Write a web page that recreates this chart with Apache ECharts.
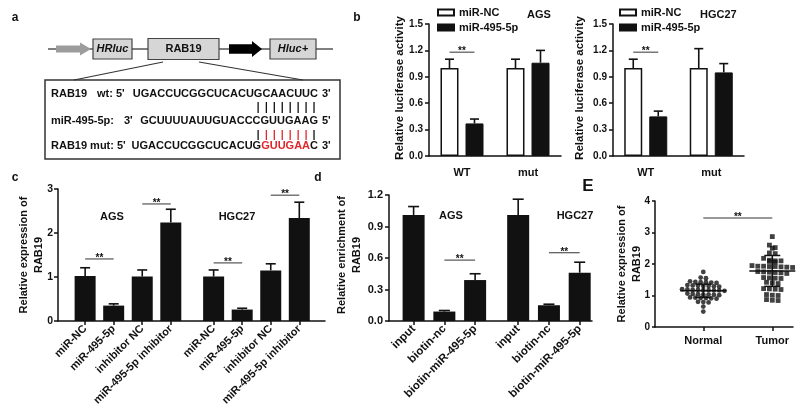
<!DOCTYPE html>
<html><head><meta charset="utf-8">
<script src="https://cdn.jsdelivr.net/npm/echarts@6/dist/echarts.min.js"></script>
<style>html,body{margin:0;padding:0;background:#fff}#c{width:800px;height:415px}</style>
</head><body><div id="c"></div>
<script>
// ================= DATA =================
// panel b (dual luciferase)
const bCategories = ['WT', 'mut'];
const bSeriesNames = ['miR-NC', 'miR-495-5p'];
const bAgsNC = [1.00, 1.00];
const bAgsNCErr = [0.10, 0.10];
const bAgs495 = [0.37, 1.06];
const bAgs495Err = [0.05, 0.14];
const bHgcNC = [1.00, 1.00];
const bHgcNCErr = [0.10, 0.22];
const bHgc495 = [0.45, 0.95];
const bHgc495Err = [0.06, 0.10];
const bSigY = [1.18];          // ** over WT pair
// panel c (qPCR)
const cLabels = ['miR-NC', 'miR-495-5p', 'inhibitor NC', 'miR-495-5p inhibitor'];
const cAgs = [1.02, 0.35, 1.01, 2.24];
const cAgsErr = [0.19, 0.04, 0.15, 0.30];
const cHgc = [1.01, 0.26, 1.15, 2.34];
const cHgcErr = [0.15, 0.03, 0.15, 0.36];
const cAgsSig = [[0, 1, 1.41], [2, 3, 2.66]];
const cHgcSig = [[0, 1, 1.32], [2, 3, 2.86]];
// panel d (RNA pull-down)
const dLabels = ['input', 'biotin-nc', 'biotin-miR-495-5p'];
const dAgs = [1.01, 0.09, 0.39];
const dAgsErr = [0.08, 0.01, 0.06];
const dHgc = [1.01, 0.15, 0.46];
const dHgcErr = [0.15, 0.01, 0.10];
const dAgsSig = [[1, 2, 0.58]];
const dHgcSig = [[1, 2, 0.65]];
// panel E (tissues)
const eCategories = ['Normal', 'Tumor'];
const eNormal = [1.75, 1.57, 1.55, 1.45, 1.42, 1.42, 1.40, 1.43, 1.41,
  1.32, 1.30, 1.29, 1.33, 1.30, 1.28, 1.31,
  1.18, 1.17, 1.16, 1.19, 1.15, 1.17, 1.18, 1.16, 1.20,
  1.05, 1.03, 1.02, 1.04, 1.06, 1.01, 1.03,
  0.93, 0.92, 0.90, 0.94, 0.91, 0.92, 0.80, 0.78, 0.79, 0.65, 0.49];
const eTumor = [2.87, 2.60, 2.52, 2.50, 2.35, 2.33,
  2.18, 2.10, 2.08, 2.12, 2.06, 2.10,
  1.93, 1.92, 1.90, 1.95, 1.91, 1.89, 1.93, 1.92,
  1.75, 1.74, 1.72, 1.76, 1.73, 1.70,
  1.56, 1.55, 1.54, 1.57, 1.40, 1.38, 1.42,
  1.22, 1.20, 1.21, 1.19, 1.03, 1.01, 1.00, 0.87, 0.85, 0.84];
const eMeanSD = [[1.15, 0.21], [1.78, 0.49]];
const eSig = [[0, 1, 3.46]];

// ================= HELPERS =================
const FONT = '"Liberation Sans", Arial, Helvetica, sans-serif';
const INK = '#111';
const axLine = {show: true, onZero: false, lineStyle: {color: INK, width: 1.5}};

function yAx(grid, min, max, interval, fs, dec, margin, tickLen) {
  return {type: 'value', gridIndex: grid, min, max, interval,
    axisLine: axLine,
    axisTick: {show: true, length: tickLen || 4, lineStyle: {color: INK, width: 1.5}},
    axisLabel: {color: INK, fontSize: fs, fontWeight: 'bold', fontFamily: FONT, margin,
      formatter: v => v.toFixed(dec)},
    splitLine: {show: false}};
}
function xCatAx(grid, data) {
  return {type: 'category', gridIndex: grid, data,
    axisLine: axLine, axisTick: {show: false},
    axisLabel: {color: INK, fontSize: 11, fontWeight: 'bold', fontFamily: FONT, margin: 11},
    splitLine: {show: false}};
}
function xValAx(grid, min, max, pos, labels, fs, rotate, margin) {
  return {type: 'value', gridIndex: grid, min, max,
    axisLine: axLine,
    axisTick: {show: true, length: 4, customValues: pos, lineStyle: {color: INK, width: 1.5}},
    axisLabel: {customValues: pos, rotate, margin, fontSize: fs, fontWeight: 'bold', color: INK,
      fontFamily: FONT,
      formatter: v => { const k = pos.findIndex(p => Math.abs(p - v) < 1e-6); return k >= 0 ? labels[k] : ''; }},
    splitLine: {show: false}};
}
function errSeries(xi, yi, data, offsetPx, capW) {
  return {type: 'custom', xAxisIndex: xi, yAxisIndex: yi, data, z: 5, silent: true,
    encode: {x: 0, y: 1},
    renderItem(params, api) {
      const x = api.value(0), v = api.value(1), e = api.value(2);
      const p0 = api.coord([x, v]), p1 = api.coord([x, v + e]);
      const cx = p0[0] + offsetPx;
      const st = {stroke: INK, lineWidth: 1.6};
      return {type: 'group', children: [
        {type: 'line', shape: {x1: cx, y1: p0[1], x2: cx, y2: p1[1]}, style: st},
        {type: 'line', shape: {x1: cx - capW / 2, y1: p1[1], x2: cx + capW / 2, y2: p1[1]}, style: st}]};
    }};
}
function sigSeries(xi, yi, data, offL, offR) {
  return {type: 'custom', xAxisIndex: xi, yAxisIndex: yi, data, z: 6, silent: true,
    encode: {x: [0, 1], y: 2},
    renderItem(params, api) {
      const p1 = api.coord([api.value(0), api.value(2)]);
      const p2 = api.coord([api.value(1), api.value(2)]);
      const xa = p1[0] + offL, xb = p2[0] + offR, y = p1[1];
      return {type: 'group', children: [
        {type: 'line', shape: {x1: xa, y1: y, x2: xb, y2: y}, style: {stroke: '#333', lineWidth: 1}},
        {type: 'text', x: (xa + xb) / 2, y: y + 4, style: {text: '**', fill: INK,
          font: 'bold 10px ' + FONT, align: 'center', verticalAlign: 'bottom'}}]};
    }};
}
function swarm(vals, cx, spacingPx, unitPx) {
  const sorted = vals.slice().sort((a, b) => b - a);
  const rows = []; let cur = null;
  for (const v of sorted) {
    if (!cur || cur.start - v > 0.09) { cur = {start: v, items: []}; rows.push(cur); }
    cur.items.push(v);
  }
  const out = [];
  rows.forEach(r => { const n = r.items.length;
    r.items.forEach((v, i) => out.push([cx + (i - (n - 1) / 2) * spacingPx / unitPx, v])); });
  return out;
}

// positions for grouped value axes
const cPos = [0, 1].flatMap(g => cLabels.map((_, i) => g * 4.5 + i));
const cAllLabels = cLabels.concat(cLabels);
const cVals = cAgs.concat(cHgc), cErrs = cAgsErr.concat(cHgcErr);
const dPos = [0, 1].flatMap(g => dLabels.map((_, i) => g * 3.4 + i));
const dAllLabels = dLabels.concat(dLabels);
const dVals = dAgs.concat(dHgc), dErrs = dAgsErr.concat(dHgcErr);
const ePos = [0, 1];

// ================= PANEL a (diagram) =================
const mctx = document.createElement('canvas').getContext('2d');
const SEQFONT = 'bold 11px ' + FONT;
mctx.font = SEQFONT;
const tw = s => mctx.measureText(s).width;
const seqWT = 'UGACCUCGGCUCACUGCAACUUC';
const seqMiR = 'GCUUUUAUUGUACCCGUUGAAG';
const seqMutA = 'UGACCUCGGCUCACUG', seqMutB = 'GUUGAA', seqMutC = 'C';
const R = 318;
const RED = '#e0262b';
const g = [];
function T(x, y, text, opt) {
  g.push(Object.assign({type: 'text', x, y, silent: true,
    style: Object.assign({text, fill: INK, font: SEQFONT, align: 'left', verticalAlign: 'middle'}, opt || {})}));
}
g.push({type: 'line', shape: {x1: 48, y1: 49, x2: 333, y2: 49}, style: {stroke: '#555', lineWidth: 1.5}});
g.push({type: 'polygon', shape: {points: [[56, 45.5], [80, 45.5], [80, 42.5], [91, 49], [80, 55.5], [80, 52.5], [56, 52.5]]}, style: {fill: '#9c9c9c'}});
g.push({type: 'polygon', shape: {points: [[229, 44.3], [252, 44.3], [252, 41], [262, 49], [252, 57], [252, 53.7], [229, 53.7]]}, style: {fill: '#000'}});
[[93, 39, 39, 20], [148, 38.5, 71, 21], [270, 39, 46, 20]].forEach(r =>
  g.push({type: 'rect', shape: {x: r[0], y: r[1], width: r[2], height: r[3]}, style: {fill: '#d6d6d6', stroke: '#444', lineWidth: 1.2}}));
T(112.5, 49, 'HRluc', {align: 'center', font: 'italic bold 11px ' + FONT});
T(183.5, 49, 'RAB19', {align: 'center'});
T(293, 49, 'Hluc+', {align: 'center', font: 'italic bold 11px ' + FONT});
g.push({type: 'line', shape: {x1: 163, y1: 62, x2: 74, y2: 80}, style: {stroke: '#333', lineWidth: 1.2}});
g.push({type: 'line', shape: {x1: 199, y1: 62, x2: 303, y2: 80}, style: {stroke: '#333', lineWidth: 1.2}});
g.push({type: 'rect', shape: {x: 45, y: 80, width: 295, height: 79}, style: {fill: 'none', stroke: '#333', lineWidth: 1.5}});
T(51, 94, 'RAB19'); T(97, 94, "wt: 5'"); T(R, 94, seqWT, {align: 'right'}); T(322, 94, "3'");
T(51, 121, 'miR-495-5p:'); T(124, 121, "3'"); T(R, 121, seqMiR, {align: 'right'}); T(322, 121, "5'");
T(51, 146, "RAB19 mut: 5'");
T(R - tw(seqMutB + seqMutC), 146, seqMutA, {align: 'right'});
T(R - tw(seqMutC), 146, seqMutB, {align: 'right', fill: RED});
T(R, 146, seqMutC, {align: 'right'}); T(322, 146, "3'");
for (let i = 15; i < 23; i++) {
  const cx = R - tw(seqWT.slice(i)) + tw(seqWT[i]) / 2;
  g.push({type: 'line', shape: {x1: cx, y1: 102, x2: cx, y2: 113}, style: {stroke: INK, lineWidth: 1.3}});
  const red = i > 15 && i < 22;
  g.push({type: 'line', shape: {x1: cx, y1: 130, x2: cx, y2: 140}, style: {stroke: red ? RED : INK, lineWidth: 1.3}});
}
// panel letters
T(15, 18, 'a', {align: 'center', font: 'bold 12px ' + FONT});
T(357, 18, 'b', {align: 'center', font: 'bold 12px ' + FONT});
T(15, 178, 'c', {align: 'center', font: 'bold 12px ' + FONT});
T(318, 178, 'd', {align: 'center', font: 'bold 12px ' + FONT});
T(588, 186, 'E', {align: 'center', font: 'bold 17px ' + FONT});
// cell line labels
T(527, 15, 'AGS'); T(700, 15, 'HGC27');
T(112, 217, 'AGS', {align: 'center'}); T(237, 217, 'HGC27', {align: 'center'});
T(451, 216, 'AGS', {align: 'center'}); T(575, 216, 'HGC27', {align: 'center'});
// axis titles
function V(x, y, text, fs) {
  g.push({type: 'text', x, y, rotation: Math.PI / 2, silent: true,
    style: {text, fill: INK, font: 'bold ' + fs + 'px ' + FONT, align: 'center', verticalAlign: 'middle', lineHeight: 15}});
}
V(400, 88, 'Relative luciferase activity', 11.5);
V(580, 88, 'Relative luciferase activity', 11.5);
V(31, 255, 'Relative expression of\nRAB19', 11);
V(349, 255, 'Relative enrichment of\nRAB19', 11);
V(629, 264, 'Relative expression of\nRAB19', 11);

// ================= OPTION =================
const legendBase = {orient: 'vertical', top: 7, itemWidth: 16, itemHeight: 6, itemGap: 4, padding: 0,
  selectedMode: false, icon: 'rect', data: bSeriesNames,
  textStyle: {fontSize: 11, fontWeight: 'bold', color: INK, fontFamily: FONT}};

const option = {
  animation: false,
  backgroundColor: '#fff',
  textStyle: {fontFamily: FONT},
  grid: [
    {left: 429, top: 24, width: 132, height: 132},
    {left: 613, top: 24, width: 131, height: 132},
    {left: 58, top: 189, width: 267, height: 132},
    {left: 389, top: 195, width: 203, height: 126},
    {left: 655, top: 201, width: 138, height: 126}
  ],
  xAxis: [
    xCatAx(0, bCategories),
    xCatAx(1, bCategories),
    xValAx(2, -0.95, 8.4, cPos, cAllLabels, 11, 45, 6),
    xValAx(3, -0.8, 5.8, dPos, dAllLabels, 11.5, 45, 6),
    xValAx(4, -0.7, 1.3, ePos, eCategories, 11, 0, 8)
  ],
  yAxis: [
    yAx(0, 0, 1.5, 0.3, 10, 1, 6),
    yAx(1, 0, 1.5, 0.3, 10, 1, 6),
    yAx(2, 0, 3, 1, 10.5, 0, 5),
    yAx(3, 0, 1.2, 0.3, 11, 1, 6),
    yAx(4, 0, 4, 1, 10, 0, 5, 3)
  ],
  legend: [Object.assign({left: 437}, legendBase), Object.assign({left: 619}, legendBase)],
  series: [
    {type: 'bar', name: bSeriesNames[0], xAxisIndex: 0, yAxisIndex: 0, data: bAgsNC, barWidth: 18, barGap: '39%',
      itemStyle: {color: '#fff', borderColor: INK, borderWidth: 1.5}},
    {type: 'bar', name: bSeriesNames[1], xAxisIndex: 0, yAxisIndex: 0, data: bAgs495, barWidth: 18, barGap: '39%',
      itemStyle: {color: INK, borderColor: INK, borderWidth: 1}},
    {type: 'bar', name: bSeriesNames[0], xAxisIndex: 1, yAxisIndex: 1, data: bHgcNC, barWidth: 18, barGap: '39%',
      itemStyle: {color: '#fff', borderColor: INK, borderWidth: 1.5}},
    {type: 'bar', name: bSeriesNames[1], xAxisIndex: 1, yAxisIndex: 1, data: bHgc495, barWidth: 18, barGap: '39%',
      itemStyle: {color: INK, borderColor: INK, borderWidth: 1}},
    errSeries(0, 0, bAgsNC.map((v, i) => [i, v, bAgsNCErr[i]]), -12.5, 9),
    errSeries(0, 0, bAgs495.map((v, i) => [i, v, bAgs495Err[i]]), 12.5, 9),
    errSeries(1, 1, bHgcNC.map((v, i) => [i, v, bHgcNCErr[i]]), -12.5, 9),
    errSeries(1, 1, bHgc495.map((v, i) => [i, v, bHgc495Err[i]]), 12.5, 9),
    sigSeries(0, 0, bSigY.map(y => [0, 0, y]), -12.5, 12.5),
    sigSeries(1, 1, bSigY.map(y => [0, 0, y]), -12.5, 12.5),
    // c
    {type: 'bar', xAxisIndex: 2, yAxisIndex: 2, data: cVals.map((v, i) => [cPos[i], v]), barWidth: 21,
      itemStyle: {color: INK}},
    errSeries(2, 2, cVals.map((v, i) => [cPos[i], v, cErrs[i]]), 0, 10),
    sigSeries(2, 2, cAgsSig.map(s => [cPos[s[0]], cPos[s[1]], s[2]]).concat(
      cHgcSig.map(s => [cPos[4 + s[0]], cPos[4 + s[1]], s[2]])), 0, 0),
    // d
    {type: 'bar', xAxisIndex: 3, yAxisIndex: 3, data: dVals.map((v, i) => [dPos[i], v]), barWidth: 22,
      itemStyle: {color: INK}},
    errSeries(3, 3, dVals.map((v, i) => [dPos[i], v, dErrs[i]]), 0, 11),
    sigSeries(3, 3, dAgsSig.map(s => [dPos[s[0]], dPos[s[1]], s[2]]).concat(
      dHgcSig.map(s => [dPos[3 + s[0]], dPos[3 + s[1]], s[2]])), 0, 0),
    // E
    {type: 'scatter', xAxisIndex: 4, yAxisIndex: 4, data: swarm(eNormal, ePos[0], 5.3, 69),
      symbol: 'circle', symbolSize: 4.8, itemStyle: {color: INK}},
    {type: 'scatter', xAxisIndex: 4, yAxisIndex: 4, data: swarm(eTumor, ePos[1], 5.8, 69),
      symbol: 'rect', symbolSize: 4.8, itemStyle: {color: INK}},
    {type: 'custom', xAxisIndex: 4, yAxisIndex: 4, z: 6, silent: true, encode: {x: 0, y: 1},
      data: eMeanSD.map((d, i) => [ePos[i], d[0], d[1]]),
      renderItem(params, api) {
        const x = api.value(0), m = api.value(1), s = api.value(2);
        const pm = api.coord([x, m]), pt = api.coord([x, m + s]), pb = api.coord([x, m - s]);
        const st = {stroke: INK, lineWidth: 1.5};
        return {type: 'group', children: [
          {type: 'line', shape: {x1: pm[0] - 23, y1: pm[1], x2: pm[0] + 23, y2: pm[1]}, style: st},
          {type: 'line', shape: {x1: pm[0], y1: pt[1], x2: pm[0], y2: pb[1]}, style: st},
          {type: 'line', shape: {x1: pm[0] - 8, y1: pt[1], x2: pm[0] + 8, y2: pt[1]}, style: st},
          {type: 'line', shape: {x1: pm[0] - 8, y1: pb[1], x2: pm[0] + 8, y2: pb[1]}, style: st}]};
      }},
    sigSeries(4, 4, eSig.map(s => [ePos[s[0]], ePos[s[1]], s[2]]), 0, 0)
  ],
  graphic: g
};
const chart = echarts.init(document.getElementById('c'), null, {renderer: 'canvas'});
chart.setOption(option);
</script></body></html>
